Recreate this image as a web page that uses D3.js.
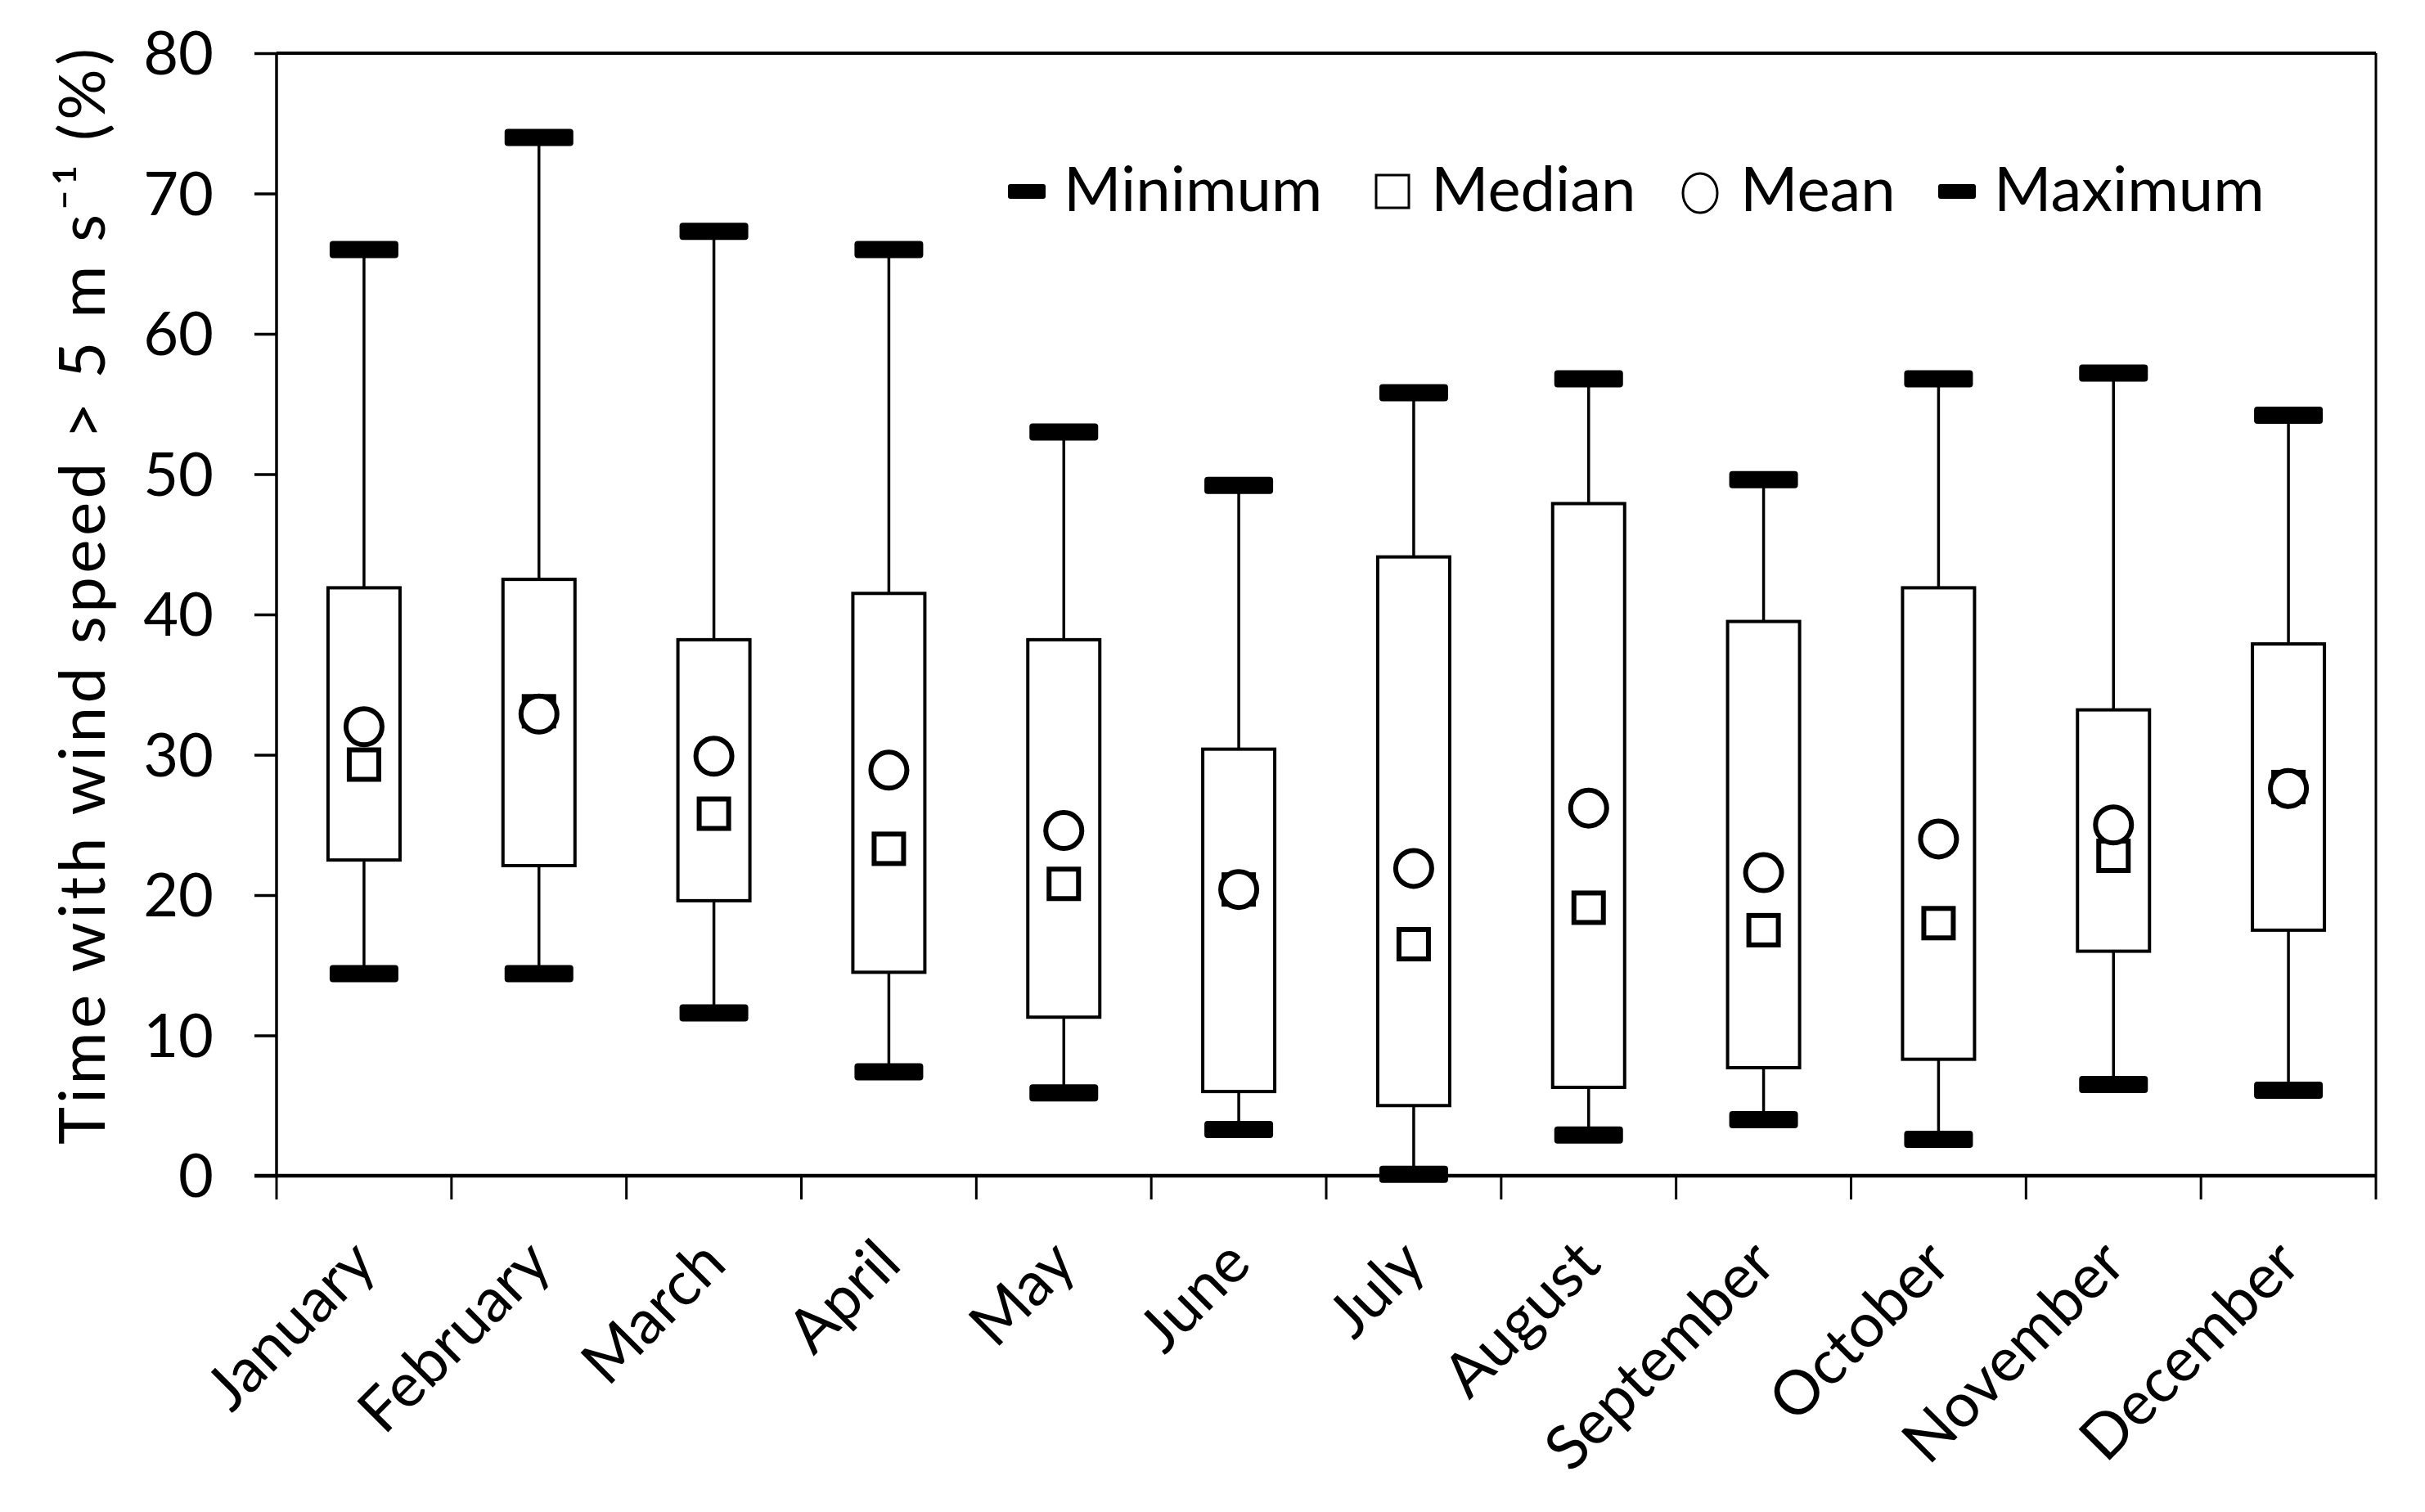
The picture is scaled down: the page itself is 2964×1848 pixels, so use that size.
<!DOCTYPE html>
<html><head><meta charset="utf-8">
<script src="https://cdn.jsdelivr.net/npm/d3@7"></script>
<style>body{margin:0;background:#fff}svg{display:block}text{font-family:Lato,"Open Sans",sans-serif;fill:#000}</style>
</head><body>
<script>
const months = ["January","February","March","April","May","June","July","August","September","October","November","December"];
const maxV    = [66.0, 74.0, 67.3, 66.0, 53.0, 49.2, 55.8, 56.8, 49.6, 56.8, 57.2, 54.2];
const q3V     = [41.9, 42.5, 38.2, 41.5, 38.2, 30.4, 44.1, 47.9, 39.5, 41.9, 33.2, 37.9];
const meanV   = [32.0, 32.9, 29.9, 28.9, 24.6, 20.4, 21.9, 26.2, 21.6, 24.0, 25.0, 27.6];
const medianV = [29.3, 33.1, 25.8, 23.3, 20.8, 20.4, 16.5, 19.1, 17.5, 18.0, 22.8, 27.7];
const q1V     = [22.5, 22.1, 19.6, 14.5, 11.3, 6.0, 5.0, 6.3, 7.7, 8.3, 16.0, 17.5];
const minV    = [14.4, 14.4, 11.6, 7.4, 5.9, 3.3, 0.1, 2.9, 4.0, 2.6, 6.5, 6.1];
const yTicks  = [0,10,20,30,40,50,60,70,80];
const legendItems = ["Minimum","Median","Mean","Maximum"];

const W = 2964, H = 1848;
const m = {left:338, right:W-2904, top:65, bottom:H-1437};
const svg = d3.select("body").append("svg").attr("width",W).attr("height",H);
const x = d3.scaleBand().domain(months).range([m.left, W-m.right]);
const y = d3.scaleLinear().domain([0,80]).range([H-m.bottom, m.top]);
const FS = 74;

// frame top & right
svg.append("line").attr("x1",m.left).attr("x2",W-m.right).attr("y1",y(80)).attr("y2",y(80)).attr("stroke","#000").attr("stroke-width",4);
svg.append("line").attr("x1",W-m.right).attr("x2",W-m.right).attr("y1",y(80)).attr("y2",y(0)).attr("stroke","#000").attr("stroke-width",3);

// y axis
const ya = svg.append("g").attr("transform",`translate(${m.left},0)`)
  .call(d3.axisLeft(y).tickValues(yTicks).tickSize(27).tickPadding(50));
ya.selectAll("path,line").attr("stroke","#000").attr("stroke-width",3.5);
ya.select(".domain").attr("d",`M0,${y(80)}V${y(0)}`);
ya.selectAll("text").attr("font-size",FS).attr("font-family","Lato,'Open Sans',sans-serif").attr("dy","0.35em");

// x axis
const xa = svg.append("g").attr("transform",`translate(0,${y(0)})`)
  .call(d3.axisBottom(x).tickSize(0).tickFormat(""));
xa.select(".domain").attr("d",`M${m.left-27},0H${W-m.right}`).attr("stroke","#000").attr("stroke-width",4.5);
const bounds = months.map(d=>x(d)).concat([W-m.right]);
svg.append("g").selectAll("line").data(bounds).join("line")
  .attr("x1",d=>d).attr("x2",d=>d).attr("y1",y(0)).attr("y2",y(0)+29)
  .attr("stroke","#000").attr("stroke-width",3);
svg.append("g").selectAll("text").data(months).join("text")
  .attr("transform",d=>`translate(${x(d)+x.bandwidth()/2+18},${y(0)+111}) rotate(-45)`)
  .attr("text-anchor","end").attr("font-size",FS+1).text(d=>d);

// y title
svg.append("text").attr("transform",`translate(128,${(y(0)+y(80))/2-22}) rotate(-90)`)
  .attr("text-anchor","middle").attr("font-size",FS+4)
  .attr("textLength",1340).attr("lengthAdjust","spacing")
  .text("Time with wind speed > 5 m s\u207B\u00B9 (%)");

const cx = i => x(months[i]) + x.bandwidth()/2;
const idx = d3.range(months.length);
const g = svg.append("g");
// whiskers
g.selectAll(".wu").data(idx).join("line").attr("x1",cx).attr("x2",cx)
  .attr("y1",i=>y(maxV[i])).attr("y2",i=>y(q3V[i])).attr("stroke","#000").attr("stroke-width",3.5);
g.selectAll(".wl").data(idx).join("line").attr("x1",cx).attr("x2",cx)
  .attr("y1",i=>y(q1V[i])).attr("y2",i=>y(minV[i])).attr("stroke","#000").attr("stroke-width",3.5);
// boxes
const bw = 88;
g.selectAll(".box").data(idx).join("rect")
  .attr("x",i=>cx(i)-bw/2).attr("width",bw)
  .attr("y",i=>y(q3V[i])).attr("height",i=>y(q1V[i])-y(q3V[i]))
  .attr("fill","#fff").attr("stroke","#000").attr("stroke-width",4);
// caps
const capW = 84, capH = 21;
[maxV,minV].forEach(arr=>{
  g.append("g").selectAll("rect").data(idx).join("rect")
   .attr("x",i=>cx(i)-capW/2).attr("width",capW)
   .attr("y",i=>y(arr[i])-capH/2).attr("height",capH).attr("rx",4).attr("fill","#000");
});
// median squares
const sq = 36;
g.append("g").selectAll("rect").data(idx).join("rect")
  .attr("x",i=>cx(i)-sq/2).attr("y",i=>y(medianV[i])-sq/2).attr("width",sq).attr("height",sq)
  .attr("fill","#fff").attr("stroke","#000").attr("stroke-width",6);
// mean circles
g.append("g").selectAll("circle").data(idx).join("circle")
  .attr("cx",cx).attr("cy",i=>y(meanV[i])).attr("r",22)
  .attr("fill","#fff").attr("stroke","#000").attr("stroke-width",6);

// legend
const leg = svg.append("g");
const legX = [1232, 1680, 2056, 2369];
const legY = 234;
legendItems.forEach((name,i)=>{
  const lx = legX[i];
  if (name==="Minimum"||name==="Maximum") {
    leg.append("rect").attr("x",lx).attr("y",legY-9).attr("width",46).attr("height",18).attr("rx",3).attr("fill","#000");
  } else if (name==="Median") {
    leg.append("rect").attr("x",lx+2).attr("y",legY-20).attr("width",40).attr("height",40).attr("fill","#fff").attr("stroke","#000").attr("stroke-width",3);
  } else {
    leg.append("ellipse").attr("cx",lx+22).attr("cy",legY+2).attr("rx",21).attr("ry",24).attr("fill","#fff").attr("stroke","#000").attr("stroke-width",3);
  }
  leg.append("text").attr("x",lx + (i===1?69:(i===2?71:68))).attr("y",legY+24).attr("font-size",FS+2).text(name);
});
</script>
</body></html>
